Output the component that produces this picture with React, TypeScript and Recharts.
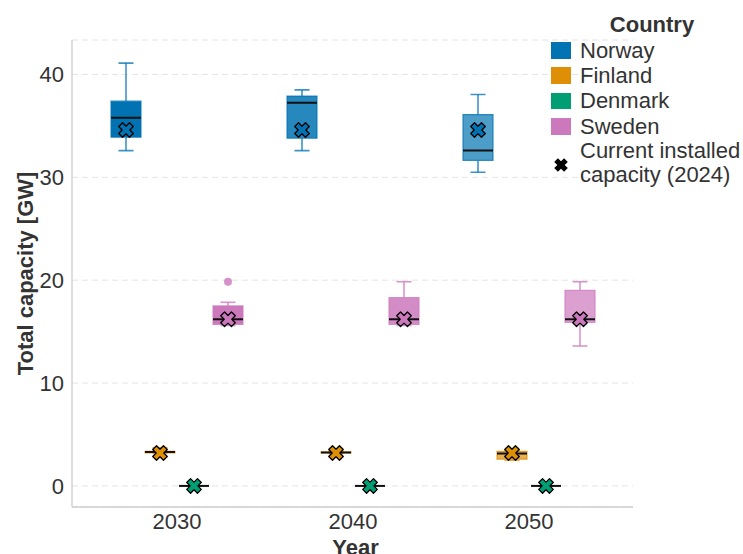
import React from 'react';
import { ComposedChart, Bar, XAxis, YAxis, CartesianGrid, Legend, Label } from 'recharts';

const years = ['2030', '2040', '2050'];
const countries = ['Norway', 'Finland', 'Denmark', 'Sweden'];
const countryColors = ['#0173b2', '#de8f05', '#029e73', '#cc78bc'];

// [whisker low, q1, median, q3, whisker high] for 2030, 2040, 2050
const norwayStats = [
  [32.6, 33.9, 35.8, 37.4, 41.1],
  [32.6, 33.8, 37.25, 37.9, 38.5],
  [30.5, 31.65, 32.6, 36.1, 38.05],
];
const finlandStats = [
  [3.2, 3.22, 3.3, 3.35, 3.7],
  [3.15, 3.2, 3.25, 3.3, 3.35],
  [2.5, 2.6, 3.15, 3.35, 3.4],
];
const denmarkStats = [
  [0, 0, 0, 0, 0],
  [0, 0, 0, 0, 0],
  [0, 0, 0, 0, 0],
];
const swedenStats = [
  [15.6, 15.7, 16.2, 17.5, 17.85],
  [15.6, 15.7, 16.2, 18.3, 19.85],
  [13.6, 15.9, 16.2, 19.0, 19.85],
];
const norwayOutliers = [[], [], []];
const finlandOutliers = [[], [], []];
const denmarkOutliers = [[], [], []];
const swedenOutliers = [[19.85], [], []];

// current installed capacity (2024), per country
const currentCapacity = [34.6, 3.2, 0.0, 16.2];

const yTicks = [0, 10, 20, 30, 40];

const statsByCountry = [norwayStats, finlandStats, denmarkStats, swedenStats];
const outliersByCountry = [norwayOutliers, finlandOutliers, denmarkOutliers, swedenOutliers];
const yearFade = [1, 0.85, 0.7];

const data = years.map((year, i) => {
  const row: any = { year, idx: i };
  countries.forEach((c, k) => {
    const s = statsByCountry[k][i];
    const out = outliersByCountry[k][i];
    const all = [...s, ...out, currentCapacity[k]];
    row[c] = {
      stats: s,
      outliers: out,
      current: currentCapacity[k],
      lo: Math.min(...all),
      hi: Math.max(...all),
    };
  });
  return row;
});

const crossPath = (cx: number, cy: number, L = 7.6, t = 2.7) => {
  const pts = [[t, L], [t, t], [L, t], [L, -t], [t, -t], [t, -L], [-t, -L], [-t, -t], [-L, -t], [-L, t], [-t, t], [-t, L]];
  const r = Math.SQRT1_2;
  return pts.map(([a, b], i) => `${i ? 'L' : 'M'}${(cx + (a - b) * r).toFixed(2)},${(cy + (a + b) * r).toFixed(2)}`).join('') + 'Z';
};

const makeBoxShape = (k: number) => (props: any) => {
  const { x, y, width, height, payload } = props;
  const d = payload[countries[k]];
  const top = Math.min(y, y + height);
  const h = Math.abs(height);
  const span = d.hi - d.lo;
  const py = (v: number) => (span > 0 ? top + ((d.hi - v) / span) * h : top);
  const cx = x + width / 2;
  const [low, q1, med, q3, high] = d.stats;
  const color = countryColors[k];
  const fade = yearFade[payload.idx];
  const half = 15;
  const cap = 7.5;
  return (
    <g>
      <line x1={cx} x2={cx} y1={py(low)} y2={py(q1)} stroke={color} strokeOpacity={0.77} strokeWidth={1.6} />
      <line x1={cx} x2={cx} y1={py(q3)} y2={py(high)} stroke={color} strokeOpacity={0.77} strokeWidth={1.6} />
      <line x1={cx - cap} x2={cx + cap} y1={py(low)} y2={py(low)} stroke={color} strokeOpacity={0.77} strokeWidth={1.6} />
      <line x1={cx - cap} x2={cx + cap} y1={py(high)} y2={py(high)} stroke={color} strokeOpacity={0.77} strokeWidth={1.6} />
      <rect x={cx - half} y={py(q3)} width={half * 2} height={Math.max(py(q1) - py(q3), 0.01)} fill="#fff" />
      <path
        d={`M${cx - half},${py(q3)}H${cx + half}V${py(q1)}H${cx - half}Z`}
        fill={color}
        fillOpacity={fade}
        stroke={color}
        strokeOpacity={0.77}
        strokeWidth={1.2}
      />
      <line x1={cx - half} x2={cx + half} y1={py(med)} y2={py(med)} stroke="#111" strokeWidth={2} />
      {d.outliers.map((o: number, j: number) => (
        <circle key={j} cx={cx} cy={py(o)} r={4} fill={color} fillOpacity={0.8} />
      ))}
      <path d={crossPath(cx, py(d.current))} fill={color} stroke="#000" strokeWidth={1.3} strokeLinejoin="round" />
    </g>
  );
};

const LegendBox = () => {
  const rowH = 25.4;
  return (
    <div style={{ position: 'relative', width: 195, height: 200, fontSize: 22, color: '#333', lineHeight: `${rowH}px` }}>
      <div style={{ position: 'absolute', left: 104, top: 11.5, transform: 'translateX(-50%)', fontWeight: 'bold', whiteSpace: 'nowrap' }}>
        Country
      </div>
      {countries.map((c, k) => (
        <div key={c} style={{ position: 'absolute', left: 0, top: 37.5 + k * rowH, height: rowH, whiteSpace: 'nowrap' }}>
          <span style={{ position: 'absolute', left: 3, top: 4.5, width: 20, height: 16.5, background: countryColors[k] }} />
          <span style={{ position: 'absolute', left: 32 }}>{c}</span>
        </div>
      ))}
      <div style={{ position: 'absolute', left: 0, top: 139, whiteSpace: 'nowrap' }}>
        <svg width={26} height={26} style={{ position: 'absolute', left: 0, top: 13 }}>
          <path d={crossPath(13, 13, 7, 2.6)} fill="#000" />
        </svg>
        <div style={{ position: 'absolute', left: 32, top: 0, lineHeight: '24px' }}>
          Current installed
          <br />
          capacity (2024)
        </div>
      </div>
    </div>
  );
};

const App: React.FC = () => {
  return (
    <div style={{ position: 'absolute', left: 0, top: 0, fontFamily: '"Liberation Sans", Arial, sans-serif' }}>
      <ComposedChart
        width={743}
        height={554}
        data={data}
        margin={{ top: 40, right: 110, bottom: 0, left: 0 }}
        barGap={0}
        barCategoryGap={0}
      >
        <CartesianGrid vertical={false} stroke="#e4e4e4" strokeDasharray="6 4" />
        <XAxis
          dataKey="year"
          height={47}
          padding={{ left: 17, right: 16 }}
          axisLine={{ stroke: '#cccccc', strokeWidth: 1.3 }}
          tickLine={false}
          tickMargin={0}
          tick={{ fill: '#333', fontSize: 22 }}
        >
          <Label
            content={(p: any) => {
              const vb = p.viewBox || { x: 72, y: 507, width: 561, height: 47 };
              return (
                <text x={vb.x + vb.width / 2 + 3} y={555} textAnchor="middle" fontSize={22} fontWeight="bold" fill="#333">
                  Year
                </text>
              );
            }}
          />
        </XAxis>
        <YAxis
          type="number"
          width={72}
          domain={[-2.05, 43.35]}
          ticks={yTicks}
          allowDataOverflow
          axisLine={{ stroke: '#cccccc', strokeWidth: 1.3 }}
          tickLine={false}
          tick={{ fill: '#333', fontSize: 22 }}
        >
          <Label
            content={(p: any) => {
              const vb = p.viewBox || { x: 0, y: 40, width: 72, height: 467 };
              const cx = vb.x + 25.5;
              const cy = vb.y + vb.height / 2;
              return (
                <text
                  x={cx}
                  y={cy}
                  transform={`rotate(-90 ${cx} ${cy})`}
                  textAnchor="middle"
                  dominantBaseline="central"
                  fontSize={22}
                  fontWeight="bold"
                  fill="#333"
                >
                  Total capacity [GW]
                </text>
              );
            }}
          />
        </YAxis>
        {countries.map((c, k) => (
          <Bar
            key={c}
            dataKey={(r: any) => [r[c].lo, r[c].hi]}
            barSize={34}
            shape={makeBoxShape(k)}
            isAnimationActive={false}
          />
        ))}
        <Legend
          layout="horizontal"
          verticalAlign="middle"
          align="center"
          wrapperStyle={{ left: 548, top: 0, width: 195, height: 200 }}
          content={() => <LegendBox />}
        />
      </ComposedChart>
    </div>
  );
};

export default App;
